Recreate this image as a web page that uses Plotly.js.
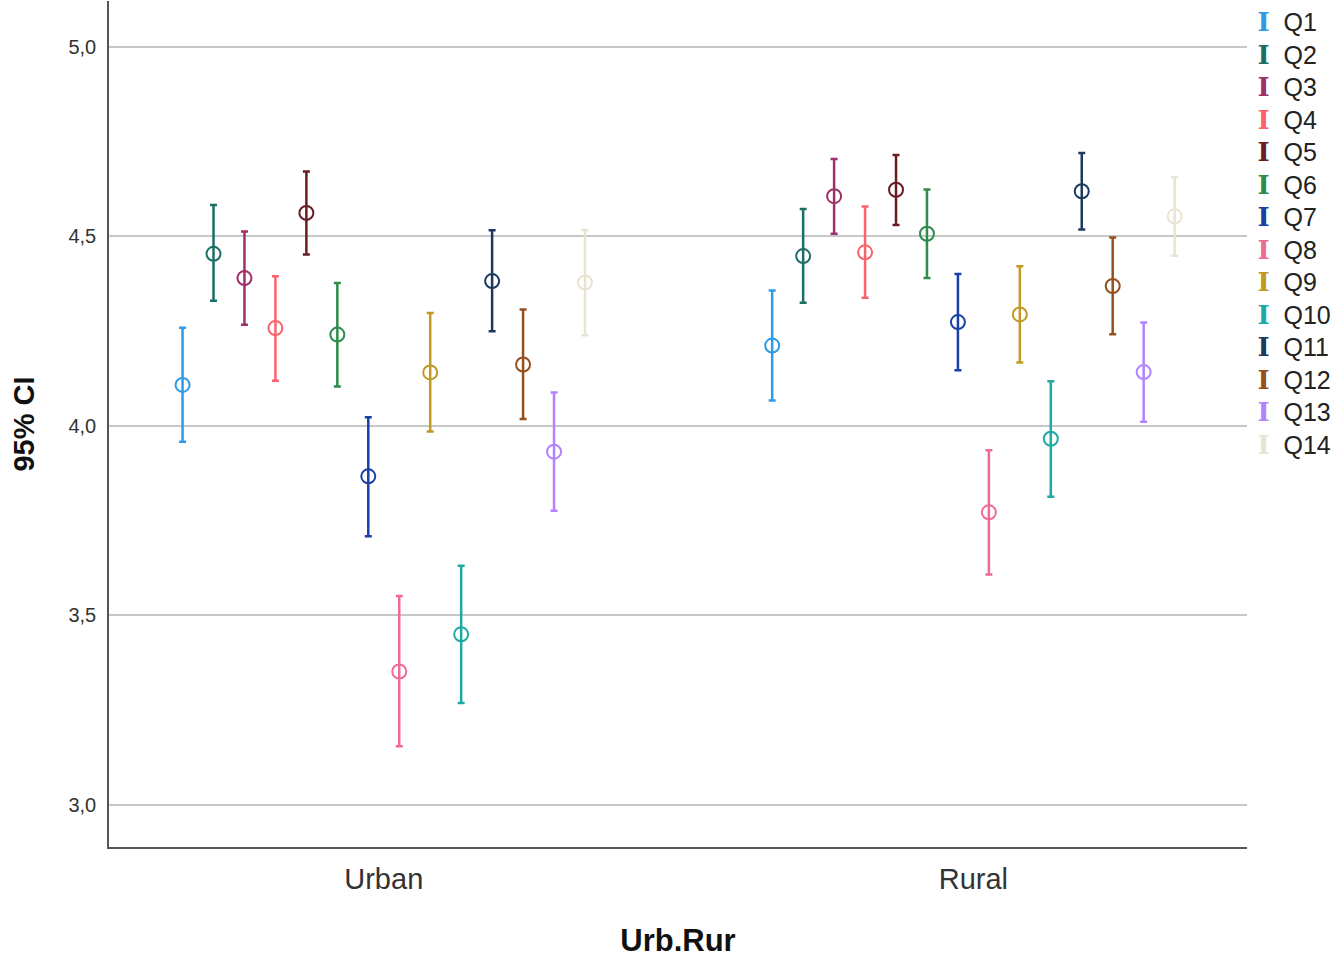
<!DOCTYPE html>
<html>
<head>
<meta charset="utf-8">
<script src="https://cdn.plot.ly/plotly-3.0.1.min.js"></script>
<style>html,body{margin:0;padding:0;background:#fff;}#chart{width:1338px;height:962px;}</style>
</head>
<body>
<div id="chart"></div>
<script>
// Categories (x axis groups)
const groups = ['Urban', 'Rural'];
// Series names
const questions = ['Q1','Q2','Q3','Q4','Q5','Q6','Q7','Q8','Q9','Q10','Q11','Q12','Q13','Q14'];
// Means per question: [Urban, Rural]
const meanUrban = [4.108, 4.454, 4.390, 4.258, 4.562, 4.241, 3.867, 3.352, 4.141, 3.450, 4.382, 4.162, 3.932, 4.378];
const meanRural = [4.212, 4.448, 4.606, 4.458, 4.623, 4.507, 4.274, 3.772, 4.294, 3.966, 4.619, 4.369, 4.142, 4.553];
// Upper 95% CI bounds
const hiUrban = [4.259, 4.583, 4.513, 4.395, 4.671, 4.377, 4.023, 3.551, 4.298, 3.631, 4.516, 4.307, 4.088, 4.517];
const hiRural = [4.357, 4.572, 4.704, 4.579, 4.715, 4.624, 4.401, 3.936, 4.421, 4.118, 4.720, 4.497, 4.273, 4.656];
// Lower 95% CI bounds
const loUrban = [3.958, 4.330, 4.267, 4.119, 4.452, 4.104, 3.709, 3.155, 3.985, 3.269, 4.250, 4.018, 3.776, 4.239];
const loRural = [4.067, 4.325, 4.507, 4.338, 4.530, 4.390, 4.147, 3.608, 4.167, 3.813, 4.518, 4.242, 4.011, 4.449];
// Y tick values
const yTicks = [3.0, 3.5, 4.0, 4.5, 5.0];

const colors = ['#2f9be8','#1d6e66','#a0306a','#f9636b','#6a1d20','#2e8b48','#1a3fa8',
                '#ee6b95','#c09a22','#1eaaa4','#1d3a5e','#96501e','#b383ff','#e9e4d2'];

const step = 0.0525; // spacing between questions within a group (axis units)
const traces = [];
questions.forEach((q, i) => {
  const off = (i - (questions.length - 1) / 2) * step;
  const means = [meanUrban[i], meanRural[i]];
  const his = [hiUrban[i], hiRural[i]];
  const los = [loUrban[i], loRural[i]];
  traces.push({
    type: 'scatter', mode: 'markers',
    x: groups.map((g, gi) => gi + off),
    y: means,
    name: q, legendgroup: q, showlegend: false,
    marker: {symbol: 'circle-open', size: 14, color: colors[i], line: {width: 2, color: colors[i]}},
    error_y: {type: 'data', symmetric: false,
      array: means.map((m, k) => his[k] - m),
      arrayminus: means.map((m, k) => m - los[k]),
      color: colors[i], thickness: 2.5, width: 3.5},
    hoverinfo: 'skip'
  });
});
// legend-only entries with an "I" glyph in the series colour
questions.forEach((q, i) => {
  traces.push({
    type: 'scatter', mode: 'markers', x: [null], y: [null],
    name: '<span style="color:' + colors[i] + ';font-family:\'DejaVu Serif\';font-weight:bold;font-size:26px">I</span>' +
          '<span style="font-size:25px">\u00a0\u00a0' + q + '</span>',
    legendgroup: q, showlegend: true,
    marker: {color: 'rgba(0,0,0,0)', size: 1}
  });
});

const layout = {
  width: 1338, height: 962,
  margin: {l: 109, r: 91, t: 1, b: 115},
  paper_bgcolor: '#ffffff', plot_bgcolor: '#ffffff',
  separators: ',.',
  showlegend: true,
  legend: {x: 0.974, xanchor: 'left', y: 1, yanchor: 'top',
    font: {family: 'Liberation Sans, Arial, sans-serif', size: 22.7, color: '#222'},
    bgcolor: 'rgba(0,0,0,0)', itemwidth: 30, tracegroupgap: 0},
  xaxis: {
    range: [-0.466, 1.464], tickvals: [0, 1], ticktext: groups,
    showgrid: false, zeroline: false, showline: true, linecolor: '#555', linewidth: 1.5,
    ticks: '', ticklabelstandoff: 5,
    tickfont: {family: 'Liberation Sans, Arial, sans-serif', size: 29, color: '#333'},
    title: {text: 'Urb.Rur', font: {family: 'Liberation Sans, Arial, sans-serif', size: 31, color: '#111', weight: 'bold'}, standoff: 36}
  },
  yaxis: {
    range: [2.889, 5.121], tickvals: yTicks, tickformat: '.1f',
    showgrid: true, gridcolor: '#c8c8c8', gridwidth: 2, zeroline: false,
    showline: true, linecolor: '#555', linewidth: 1.5, ticks: '', ticklabelstandoff: 7,
    tickfont: {family: 'Liberation Sans, Arial, sans-serif', size: 20, color: '#333'},
    title: {text: '95% CI', font: {family: 'Liberation Sans, Arial, sans-serif', size: 29, color: '#111', weight: 'bold'}, standoff: 25}
  }
};

Plotly.newPlot('chart', traces, layout, {displayModeBar: false, responsive: false});
</script>
</body>
</html>
